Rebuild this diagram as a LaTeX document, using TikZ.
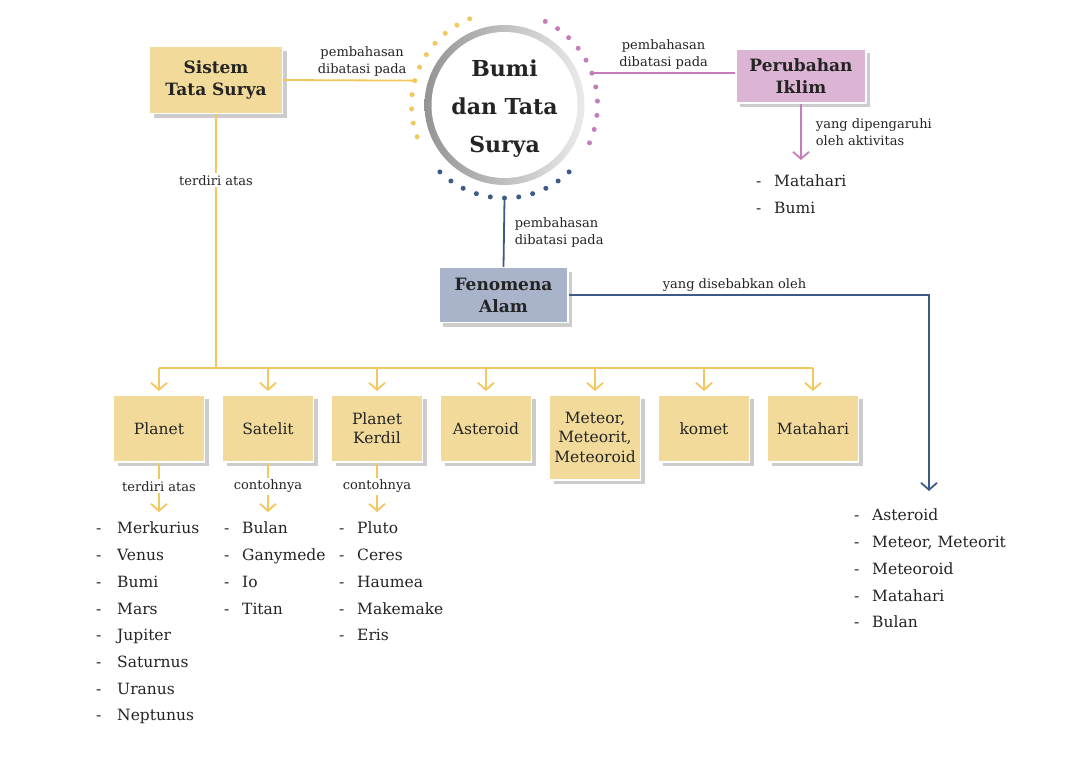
\documentclass[tikz,border=0pt]{standalone}
\usepackage{fontspec}
\setmainfont{DejaVu Serif}
\usetikzlibrary{arrows.meta, shadows}
\definecolor{sunline}{HTML}{F2C75C}
\definecolor{sunfill}{HTML}{F2DB9A}
\definecolor{rosline}{HTML}{C47DB8}
\definecolor{rosfill}{HTML}{DDB5D4}
\definecolor{sealine}{HTML}{3D5A87}
\definecolor{seafill}{HTML}{A9B4CB}
\definecolor{inkdark}{HTML}{242424}
\newcommand{\itm}[1]{\makebox[18pt][l]{-}#1}

\begin{document}
\begin{tikzpicture}[x=1pt, y=-1pt]
      % Styles des boites et des fleches
      \tikzstyle{box} = [rectangle, draw=white, line width=1.5pt, text=inkdark, align=center, inner sep=2pt, drop shadow={shadow xshift=4pt, shadow yshift=-4pt, fill=black!20, opacity=1}]
      \tikzstyle{topic} = [box, font=\bfseries\fontsize{17}{22}\selectfont]
      \tikzstyle{member} = [box, fill=sunfill, minimum width=91pt, minimum height=67pt, anchor=north, font=\fontsize{15.5}{19.5}\selectfont]
      \tikzstyle{note} = [fill=white, inner sep=2pt, text=inkdark, font=\fontsize{13}{17}\selectfont, align=center]
      \tikzstyle{items} = [anchor=north west, inner sep=0pt, text=inkdark, align=left, font=\fontsize{15.5}{26.7}\selectfont]
      \tikzstyle{link} = [line width=1.8pt]
      \tikzstyle{tip} = [-{Straight Barb[length=7pt, width=16pt]}]

      % Fond
      \fill[white] (0,0) rectangle (1075,758);
      \useasboundingbox (0,0) rectangle (1075,758);

      % Cercle central
      \coordinate (hub) at (504.5,105);
      \shade[left color=black!42, right color=black!8] (hub) circle[radius=80pt];
      \fill[white] (hub) circle[radius=73pt];
      \node[circle, minimum size=140pt, inner sep=0pt, text=inkdark, align=center, font=\bfseries\fontsize{22}{38}\selectfont] (bumi) at (504.5,109) {Bumi\\dan Tata\\Surya};
      \foreach \a in {0,...,10} {
        \fill[sunline] ([shift={(160+8.8*\a:93)}]hub) circle[radius=2.5pt];
        \fill[rosline] ([shift={(-64+8.8*\a:93)}]hub) circle[radius=2.5pt];
        \fill[sealine] ([shift={(46+8.8*\a:93)}]hub) circle[radius=2.5pt];
      }
      \coordinate (dotW) at ([shift={(195.2:93)}]hub);
      \coordinate (dotE) at ([shift={(-20:93)}]hub);
      \coordinate (dotS) at ([shift={(90:93)}]hub);

      % Les trois themes
      \node[topic, fill=sunfill, minimum width=133pt, minimum height=67pt] (sistem) at (216,80) {Sistem\\Tata Surya};
      \node[topic, fill=rosfill, minimum width=130pt, minimum height=54pt] (iklim) at (801,76) {Perubahan\\Iklim};
      \node[topic, fill=seafill, minimum width=129pt, minimum height=55pt] (alam) at (503.5,295) {Fenomena\\Alam};

      % Membres du systeme solaire
      \node[member] (planet) at (159,394) {Planet};
      \node[member] (satelit) at (268,394) {Satelit};
      \node[member] (kerdil) at (377,394) {Planet\\Kerdil};
      \node[member] (asteroid) at (486,394) {Asteroid};
      \node[member, minimum height=85pt] (meteor) at (595,394) {Meteor,\\Meteorit,\\Meteoroid};
      \node[member] (komet) at (704,394) {komet};
      \node[member] (matahari) at (813,394) {Matahari};

      % Listes
      \node[items] (planetList) at (96,522) {\makebox[21pt][l]{-}Merkurius\\\makebox[21pt][l]{-}Venus\\\makebox[21pt][l]{-}Bumi\\\makebox[21pt][l]{-}Mars\\\makebox[21pt][l]{-}Jupiter\\\makebox[21pt][l]{-}Saturnus\\\makebox[21pt][l]{-}Uranus\\\makebox[21pt][l]{-}Neptunus};
      \node[items] (satelitList) at (224,522) {\itm{Bulan}\\\itm{Ganymede}\\\itm{Io}\\\itm{Titan}};
      \node[items] (kerdilList) at (339,522) {\itm{Pluto}\\\itm{Ceres}\\\itm{Haumea}\\\itm{Makemake}\\\itm{Eris}};
      \node[items] (iklimList) at (756,175) {\itm{Matahari}\\\itm{Bumi}};
      \node[items] (alamList) at (854,509) {\itm{Asteroid}\\\itm{Meteor, Meteorit}\\\itm{Meteoroid}\\\itm{Matahari}\\\itm{Bulan}};

      % Liens vers le cercle
      \draw[link, sunline] (sistem.east) -- (dotW) node[note, pos=0.6, above=1pt] {pembahasan\\dibatasi pada};
      \draw[link, rosline] (dotE) -- (dotE -| iklim.west) node[note, midway, above=1pt] {pembahasan\\dibatasi pada};
      \draw[link, sealine] (dotS) -- (alam.north) node[note, midway, right=8pt, align=left] {pembahasan\\dibatasi pada};

      % Fleches
      \coordinate (iklimEnd) at (801,160);
      \draw[link, rosline, tip] (iklim.south) -- (iklimEnd) node[note, midway, right=12pt, align=left] {yang dipengaruhi\\oleh aktivitas};
      \coordinate (alamEnd) at (929,491);
      \draw[link, sealine, tip] (alam.east) -| (alamEnd) node[note, pos=0.23, above=1pt] {yang disebabkan oleh};

      \coordinate (bus) at (0,368);
      \draw[link, sunline] (sistem.south) -- (sistem.south |- bus) node[note, pos=0.26] {terdiri atas};
      \draw[link, sunline] (planet.north |- bus) -- (matahari.north |- bus);
      \foreach \m in {planet, satelit, kerdil, asteroid, meteor, komet, matahari}
        \draw[link, sunline, tip, shorten >=3pt] (\m.north |- bus) -- (\m.north);

      \draw[link, sunline, tip, shorten >=10pt] (planet.south) -- (planet.south |- planetList.north) node[note, pos=0.4] {terdiri atas};
      \draw[link, sunline, tip, shorten >=10pt] (satelit.south) -- (satelit.south |- satelitList.north) node[note, pos=0.4] {contohnya};
      \draw[link, sunline, tip, shorten >=10pt] (kerdil.south) -- (kerdil.south |- kerdilList.north) node[note, pos=0.4] {contohnya};

    \end{tikzpicture}
\end{document}
